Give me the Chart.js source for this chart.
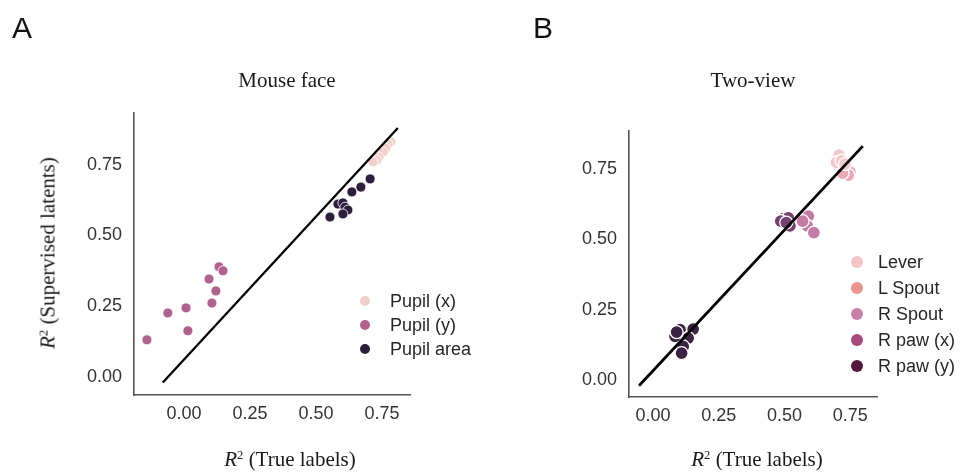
<!DOCTYPE html>
<html><head><meta charset="utf-8">
<script src="https://cdn.jsdelivr.net/npm/chart.js@4.4.1/dist/chart.umd.min.js"></script>
<style>
body{margin:0;width:961px;height:474px;background:#fff;position:relative;overflow:hidden;font-family:"Liberation Sans",Arial,sans-serif}
canvas{position:absolute;top:0}
.t{position:absolute;font-family:"Liberation Serif","Times New Roman",serif;color:#1a1a1a;white-space:nowrap;transform:translate(-50%,-50%);line-height:1}
.t sup{font-size:0.6em;vertical-align:0.55em;line-height:0}
.p{position:absolute;font-family:"Liberation Sans",Arial,sans-serif;font-size:30px;color:#111;line-height:1}
.lg{position:absolute;font-family:"Liberation Sans",Arial,sans-serif;font-size:18px;color:#262626;line-height:1}
.lg .it{position:absolute;white-space:nowrap}
.lg .dot{position:absolute;border-radius:50%}
</style></head>
<body>
<canvas id="ca" width="480" height="474" style="left:0;width:480px;height:474px"></canvas>
<canvas id="cb" width="481" height="474" style="left:480px;width:481px;height:474px"></canvas>
<div class="p" style="left:12px;top:13px">A</div>
<div class="p" style="left:533px;top:13px">B</div>
<div class="t" style="left:287px;top:80px;font-size:21px">Mouse face</div>
<div class="t" style="left:753px;top:80px;font-size:21px">Two-view</div>
<div class="t" style="left:290px;top:459px;font-size:21px"><i>R</i><sup>2</sup> (True labels)</div>
<div class="t" style="left:757px;top:459px;font-size:21px"><i>R</i><sup>2</sup> (True labels)</div>
<div class="t" style="left:48px;top:253px;font-size:21px;transform:translate(-50%,-50%) rotate(-90deg)"><i>R</i><sup>2</sup> (Supervised latents)</div>
<div class="lg" id="lga"></div>
<div class="lg" id="lgb"></div>
<script>
// ---------- tick values / labels ----------
const tickValues = [0, 0.25, 0.5, 0.75];
const tickLabels = ['0.00', '0.25', '0.50', '0.75'];

// ---------- Panel A: Mouse face ----------
const mouseSeries = ['Pupil (x)', 'Pupil (y)', 'Pupil area'];
const mouseColors = ['#f0d0c9', '#b0628e', '#2d1e3e'];
const pupilX_true = [0.784, 0.773, 0.765, 0.754, 0.739, 0.731, 0.716];
const pupilX_sup  = [0.830, 0.823, 0.809, 0.795, 0.777, 0.767, 0.760];
const pupilY_true = [0.133, 0.148, 0.095, 0.121, 0.106, 0.008, -0.061, 0.015, -0.140];
const pupilY_sup  = [0.389, 0.375, 0.346, 0.304, 0.261, 0.244, 0.226, 0.163, 0.131];
const pupilArea_true = [0.705, 0.670, 0.636, 0.583, 0.602, 0.610, 0.621, 0.602, 0.553];
const pupilArea_sup  = [0.700, 0.671, 0.654, 0.611, 0.615, 0.600, 0.590, 0.576, 0.565];
const mouseLine_x = [-0.08, 0.81];
const mouseLine_y = [-0.02, 0.88];

// ---------- Panel B: Two-view ----------
const twoSeries = ['Lever', 'L Spout', 'R Spout', 'R paw (x)', 'R paw (y)'];
const twoLegendColors = ['#f3c4c3', '#ec958f', '#c97fa5', '#a64a7e', '#531a3e'];
const twoPointColors  = ['#f2c9c9', '#e9a8b4', '#c67ca2', '#74406f', '#3b2344'];
const lever_true = [0.708, 0.698, 0.717, 0.730];
const lever_sup  = [0.800, 0.774, 0.780, 0.768];
const lSpout_true = [0.736, 0.749, 0.743, 0.721];
const lSpout_sup  = [0.752, 0.740, 0.729, 0.736];
const rSpout_true = [0.591, 0.587, 0.612, 0.569];
const rSpout_sup  = [0.583, 0.548, 0.524, 0.565];
const rPawX_true = [0.496, 0.515, 0.521, 0.486, 0.507];
const rPawX_sup  = [0.574, 0.577, 0.548, 0.565, 0.560];
const rPawY_true = [0.103, 0.153, 0.084, 0.134, 0.115, 0.109, 0.090];
const rPawY_sup  = [0.179, 0.181, 0.155, 0.149, 0.119, 0.095, 0.170];
const twoLine_x = [-0.053, 0.798];
const twoLine_y = [-0.021, 0.832];

const zip = (xs, ys) => xs.map((x, i) => ({x: x, y: ys[i]}));

function scatterDs(label, xs, ys, color, r, bw) {
  return {type: 'scatter', label: label, data: zip(xs, ys), backgroundColor: color,
    borderColor: '#ffffff', borderWidth: bw, pointRadius: r, pointHoverRadius: r, order: 2};
}
function lineDs(xs, ys, w) {
  return {type: 'line', label: 'identity', data: zip(xs, ys), borderColor: '#000000',
    borderWidth: w, pointRadius: 0, fill: false, showLine: true, order: 1, tension: 0};
}

function axis(min, max, isX, fit) {
  return {
    type: 'linear', min: min, max: max,
    afterBuildTicks: s => { s.ticks = tickValues.map(v => ({value: v})); },
    afterFit: s => { if (isX) s.height = fit; else s.width = fit; },
    ticks: {callback: (v, i) => tickLabels[i], color: '#333333',
      font: {family: '"Liberation Sans", Arial, sans-serif', size: 18}, padding: isX ? 8 : 12},
    grid: {display: false, drawTicks: false, tickLength: 0},
    border: {display: true, color: '#555555', width: 1.6}
  };
}

function makeChart(id, datasets, xr, yr, pad) {
  return new Chart(document.getElementById(id), {
    data: {datasets: datasets},
    options: {
      responsive: false, animation: false, devicePixelRatio: 1,
      layout: {padding: pad},
      plugins: {legend: {display: false}, tooltip: {enabled: false}},
      scales: {x: axis(xr[0], xr[1], true, 40), y: axis(yr[0], yr[1], false, 50)}
    }
  });
}

makeChart('ca', [
  lineDs(mouseLine_x, mouseLine_y, 2.3),
  scatterDs(mouseSeries[0], pupilX_true, pupilX_sup, mouseColors[0], 5, 0.8),
  scatterDs(mouseSeries[1], pupilY_true, pupilY_sup, mouseColors[1], 5, 0.8),
  scatterDs(mouseSeries[2], pupilArea_true, pupilArea_sup, mouseColors[2], 5, 0.8)
], [-0.189, 0.856], [-0.064, 0.933], {left: 84, top: 113, right: 70, bottom: 39});

makeChart('cb', [
  lineDs(twoLine_x, twoLine_y, 2.8),
  scatterDs(twoSeries[0], lever_true, lever_sup, twoPointColors[0], 6.5, 1.3),
  scatterDs(twoSeries[1], lSpout_true, lSpout_sup, twoPointColors[1], 6.5, 1.3),
  scatterDs(twoSeries[2], rSpout_true, rSpout_sup, twoPointColors[2], 6.5, 1.3),
  scatterDs(twoSeries[3], rPawX_true, rPawX_sup, twoPointColors[3], 6.5, 1.3),
  scatterDs(twoSeries[4], rPawY_true, rPawY_sup, twoPointColors[4], 6.5, 1.3)
], [-0.091, 0.852], [-0.061, 0.886], {left: 99, top: 131, right: 84, bottom: 37});

function buildLegend(id, names, colors, x, y0, step, r, textDx) {
  const el = document.getElementById(id);
  names.forEach((n, i) => {
    const cy = y0 + i * step;
    const d = document.createElement('div');
    d.className = 'dot';
    d.style.cssText = `left:${x - r}px;top:${cy - r}px;width:${2 * r}px;height:${2 * r}px;background:${colors[i]}`;
    el.appendChild(d);
    const t = document.createElement('div');
    t.className = 'it';
    t.textContent = n;
    t.style.cssText = `left:${x + textDx}px;top:${cy - 9}px`;
    el.appendChild(t);
  });
}
buildLegend('lga', mouseSeries, mouseColors, 365, 301, 24, 5, 25);
buildLegend('lgb', twoSeries, twoLegendColors, 857, 262, 26, 6, 21);
</script>
</body></html>
